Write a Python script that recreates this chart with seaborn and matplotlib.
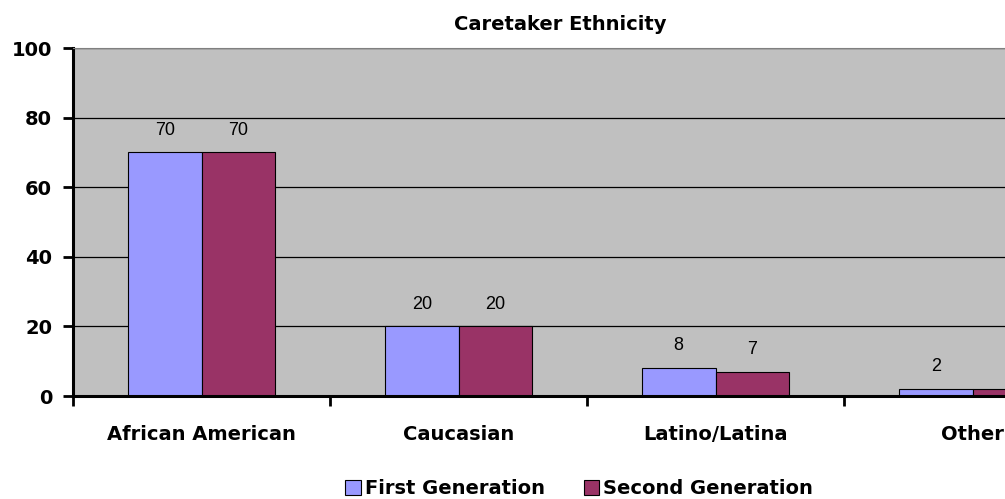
import numpy as np
import pandas as pd
import matplotlib.pyplot as plt
import seaborn as sns

categories = ["African American", "Caucasian", "Latino/Latina", "Other"]
first_gen = [70, 20, 8, 2]
second_gen = [70, 20, 7, 2]
series = ["First Generation", "Second Generation"]

df = pd.DataFrame({
    "Ethnicity": categories * 2,
    "Percent": first_gen + second_gen,
    "Group": [series[0]] * 4 + [series[1]] * 4,
})

sns.set_style("white")
plt.rcParams["font.family"] = ["Liberation Sans", "DejaVu Sans"]
plt.rcParams["text.color"] = "black"
plt.rcParams["xtick.color"] = "black"
plt.rcParams["ytick.color"] = "black"
BOLD = {"family": "DejaVu Sans", "weight": "bold"}

fig = plt.figure(figsize=(10.05, 4.99), dpi=100)
ax = fig.add_axes([73 / 1005, 103 / 499, 1028 / 1005, 348 / 499])

sns.barplot(
    data=df, x="Ethnicity", y="Percent", hue="Group",
    palette=["#9999FF", "#993366"], width=0.572,
    edgecolor="black", linewidth=0.8, ax=ax, saturation=1,
)

ax.set_facecolor("#C0C0C0")
ax.set_xlim(-0.5, 3.5)
ax.set_ylim(0, 100)
ax.set_yticks([0, 20, 40, 60, 80, 100])
ax.yaxis.grid(True, color="black", linewidth=0.9)
ax.set_axisbelow(True)

# category boundary ticks + centred labels
ax.set_xticks(np.arange(-0.5, 4.0, 1.0))
ax.set_xticklabels([])
ax.set_xticks(np.arange(len(categories)), minor=True)
ax.set_xticklabels(categories, minor=True, fontsize=14, color="black", **BOLD)
ax.tick_params(axis="x", which="major", bottom=True, length=7, width=2,
               direction="out", color="black")
ax.tick_params(axis="x", which="minor", bottom=True, length=0, pad=21)
ax.tick_params(axis="y", left=True, length=7, width=2, direction="out",
               color="black", labelcolor="black", labelsize=14, pad=8)
for lab in ax.get_yticklabels():
    lab.set_fontweight("bold")
    lab.set_family("DejaVu Sans")

for side in ["left", "bottom"]:
    ax.spines[side].set_color("black")
    ax.spines[side].set_linewidth(2.2)
ax.spines["top"].set_color("#808080")
ax.spines["right"].set_visible(False)

for cont in ax.containers:
    ax.bar_label(cont, padding=10, fontsize=13, color="black")

ax.set_xlabel("")
ax.set_ylabel("")

handles, labels = ax.get_legend_handles_labels()
ax.legend_.remove()
leg = fig.legend(handles, labels, loc="center", bbox_to_anchor=(579 / 1005, 1 - 489 / 499),
                 ncol=2, frameon=False, handlelength=0.8, handleheight=0.8,
                 handletextpad=0.2, columnspacing=2.0,
                 prop={"family": "DejaVu Sans", "weight": "bold", "size": 14})
for t in leg.get_texts():
    t.set_color("black")

fig.text(560 / 1005, 1 - 25 / 499, "Caretaker Ethnicity", ha="center", va="center",
         fontsize=14, color="black", **BOLD)

fig.savefig("out.png", dpi=100)
